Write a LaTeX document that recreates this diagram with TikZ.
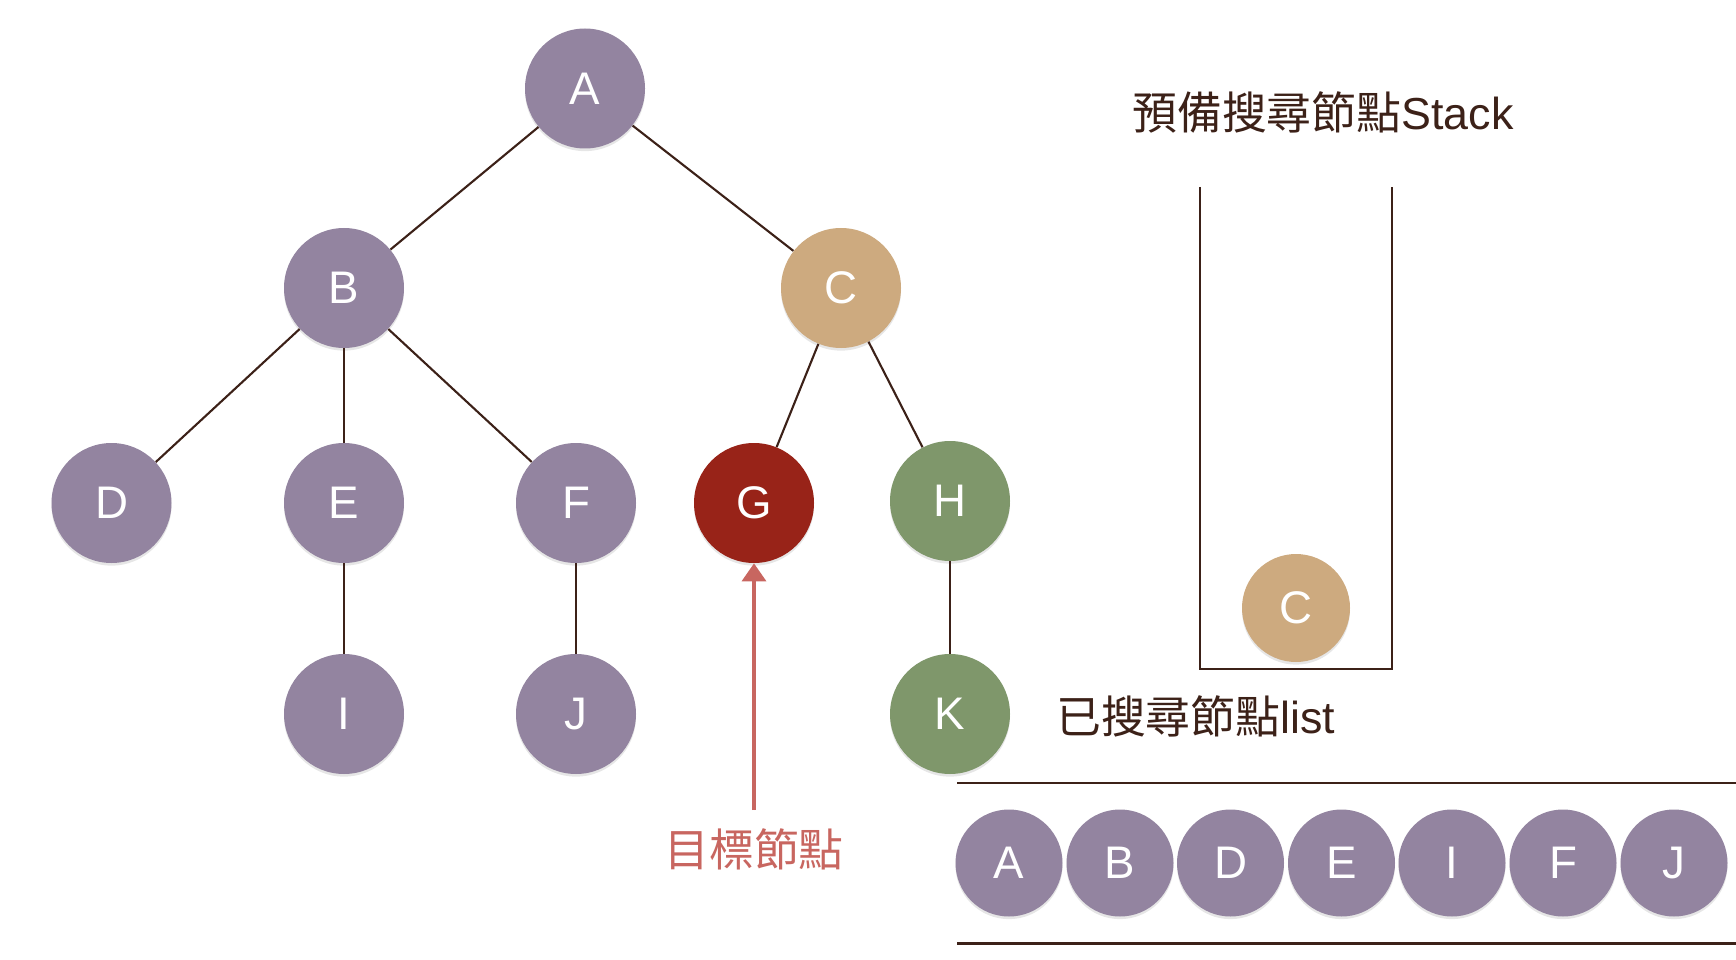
\documentclass[tikz,border=0pt]{standalone}
\usepackage{fontspec}
\setmainfont{Liberation Sans}
\newfontfamily\cjk{Noto Sans CJK TC}
\usetikzlibrary{arrows.meta,shadows}

\definecolor{purplenode}{RGB}{147,132,160}
\definecolor{tannode}{RGB}{205,170,127}
\definecolor{rednode}{RGB}{152,35,24}
\definecolor{greennode}{RGB}{127,151,107}
\definecolor{darkline}{RGB}{60,33,24}
\definecolor{targetred}{RGB}{200,102,96}

\begin{document}
\begin{tikzpicture}[
  treenode/.style={circle, minimum size=2.4cm, inner sep=0pt, text=white,
    font=\fontsize{26}{30}\selectfont,
    drop shadow={shadow xshift=0pt, shadow yshift=-1.5pt, opacity=0.2}},
  listnode/.style={treenode, minimum size=2.14cm, fill=purplenode},
  edge/.style={draw=darkline, line width=1.2pt},
  label/.style={text=darkline, font=\fontsize{25.5}{30}\selectfont}
]

\useasboundingbox (0,0) rectangle (34.72,-19.2);

% tree
\node[treenode, fill=purplenode] (A) at (11.7,-1.77) {A};
\node[treenode, fill=purplenode] (B) at (6.88,-5.76) {B};
\node[treenode, fill=tannode] (C) at (16.82,-5.76) {C};
\node[treenode, fill=purplenode] (D) at (2.23,-10.06) {D};
\node[treenode, fill=purplenode] (E) at (6.88,-10.06) {E};
\node[treenode, fill=purplenode] (F) at (11.52,-10.06) {F};
\node[treenode, fill=rednode] (G) at (15.08,-10.06) {G};
\node[treenode, fill=greennode] (H) at (19.0,-10.02) {H};
\node[treenode, fill=purplenode] (I) at (6.88,-14.28) {I};
\node[treenode, fill=purplenode] (J) at (11.52,-14.28) {J};
\node[treenode, fill=greennode] (K) at (19.0,-14.28) {K};

\draw[edge] (A) -- (B);
\draw[edge] (A) -- (C);
\draw[edge] (B) -- (D);
\draw[edge] (B) -- (E);
\draw[edge] (B) -- (F);
\draw[edge] (C) -- (G);
\draw[edge] (C) -- (H);
\draw[edge] (E) -- (I);
\draw[edge] (F) -- (J);
\draw[edge] (H) -- (K);

% target
\node[text=targetred, font=\fontsize{25.5}{30}\selectfont\cjk] (target) at (15.08,-16.98) {目標節點};
\coordinate (targettail) at (15.08,-16.2);
\draw[-{Triangle[width=0.48cm,length=0.36cm]}, draw=targetred, fill=targetred, line width=2pt] (targettail) -- (G);

% stack
\node[label] (stacktitle) at (26.46,-2.24) {{\cjk 預備搜尋節點}Stack};
\draw[darkline, line width=1.4pt] (24.0,-3.74) -- (24.0,-13.38) -- (27.84,-13.38) -- (27.84,-3.74);
\node[treenode, fill=tannode, minimum size=2.16cm] (stackC) at (25.92,-12.16) {C};

% visited list
\node[label, anchor=west] (listtitle) at (21.0,-14.32) {{\cjk 已搜尋節點}list};
\draw[darkline, line width=1.7pt] (19.14,-15.66) -- (34.72,-15.66);
\draw[darkline, line width=1.7pt] (19.14,-18.86) -- (34.72,-18.86);

\node[listnode] (l1) at (20.18,-17.26) {A};
\node[listnode] (l2) at (22.40,-17.26) {B};
\node[listnode] (l3) at (24.61,-17.26) {D};
\node[listnode] (l4) at (26.83,-17.26) {E};
\node[listnode] (l5) at (29.04,-17.26) {I};
\node[listnode] (l6) at (31.26,-17.26) {F};
\node[listnode] (l7) at (33.48,-17.26) {J};

\end{tikzpicture}
\end{document}
